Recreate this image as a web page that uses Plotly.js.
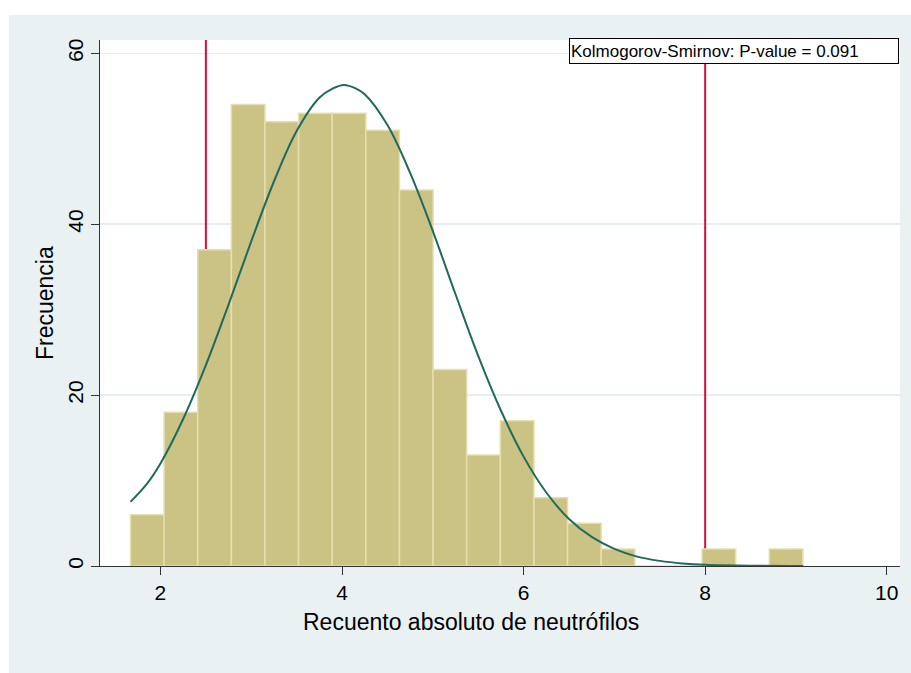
<!DOCTYPE html>
<html>
<head>
<meta charset="utf-8">
<script src="https://cdn.plot.ly/plotly-3.0.1.min.js"></script>
<style>html,body{margin:0;padding:0;background:#fff}#chart{width:911px;height:673px}</style>
</head>
<body>
<div id="chart"></div>
<script>
// Histogram bins (centres, width) and counts
const binCenters = [1.855, 2.225, 2.596, 2.966, 3.336, 3.707, 4.077, 4.447, 4.818, 5.188,
                    5.558, 5.929, 6.299, 6.669, 7.040, 7.410, 7.780, 8.151, 8.521, 8.891];
const binWidth = 0.3703;
const counts = [6, 18, 37, 54, 52, 53, 53, 51, 44, 23, 13, 17, 8, 5, 2, 0, 0, 2, 0, 2];

// Normal-density overlay, points
const curveX = [1.67, 1.85, 2.0, 2.25, 2.5, 2.75, 3.0, 3.25, 3.5, 3.75, 3.9, 4.02, 4.15, 4.25, 4.5, 4.75, 5.0,
                5.25, 5.5, 5.75, 6.0, 6.25, 6.5, 6.75, 7.0, 7.25, 7.5, 7.75, 8.0, 8.5, 9.08];
const curveY = [7.5, 9.6, 12.0, 17.2, 23.5, 30.6, 38.0, 45.0, 50.9, 54.8, 55.9, 56.3, 55.9, 55.2, 51.6, 46.0, 39.2,
                31.8, 24.6, 18.2, 12.8, 8.6, 5.5, 3.4, 2.0, 1.1, 0.6, 0.3, 0.14, 0.03, 0.0];

// Reference lines and texts
const refLines = [2.5, 8];
const xTicks = [2, 4, 6, 8, 10];
const yTicks = [0, 20, 40, 60];
const xTitle = "Recuento absoluto de neutrófilos";
const yTitle = "Frecuencia";
const ksText = "Kolmogorov-Smirnov: P-value = 0.091";

const FONT = '"Liberation Sans", Arial, sans-serif';
const yTop = 61.56;

const traces = [
  {
    type: 'bar', x: binCenters, y: counts, width: binWidth,
    marker: {color: '#cbc383', line: {color: '#e4dfae', width: 1.5}},
    hoverinfo: 'skip', showlegend: false
  },
  {
    type: 'scatter', mode: 'lines', x: curveX, y: curveY,
    line: {color: '#1f6a5d', width: 2, shape: 'spline', smoothing: 1},
    hoverinfo: 'skip', showlegend: false
  }
];

const shapes = [
  {type: 'rect', xref: 'paper', yref: 'paper', x0: -0.11375, x1: 1.05, y0: -0.22, y1: 1.0476,
   fillcolor: '#e9f1f3', line: {width: 0}, layer: 'below'},
  {type: 'rect', xref: 'paper', yref: 'paper', x0: 0, x1: 1, y0: 0, y1: 1,
   fillcolor: '#ffffff', line: {width: 0}, layer: 'below'}
];
refLines.forEach(v => shapes.push({
  type: 'line', xref: 'x', yref: 'y', x0: v, x1: v, y0: 0, y1: yTop,
  line: {color: '#d0103f', width: 2}, layer: 'between'
}));

const layout = {
  width: 911, height: 673,
  margin: {l: 100, r: 11, t: 40, b: 107, pad: 0},
  paper_bgcolor: '#ffffff', plot_bgcolor: '#ffffff',
  font: {family: FONT, color: '#000'},
  bargap: 0,
  xaxis: {
    range: [1.334, 10.146], tickvals: xTicks, ticktext: xTicks.map(String),
    ticks: 'outside', ticklen: 8, tickwidth: 1, tickcolor: '#333',
    showline: true, linecolor: '#333', linewidth: 1,
    showgrid: false, zeroline: false,
    tickfont: {family: FONT, size: 21, color: '#000'}
  },
  yaxis: {
    range: [0, yTop], tickvals: yTicks, ticktext: yTicks.map(String),
    tickangle: -90,
    ticks: 'outside', ticklen: 8, tickwidth: 1, tickcolor: '#333',
    showline: true, linecolor: '#333', linewidth: 1,
    showgrid: true, gridcolor: '#e6eef1', gridwidth: 1.5, zeroline: false,
    tickfont: {family: FONT, size: 21, color: '#000'}
  },
  shapes: shapes,
  annotations: [
    {xref: 'paper', yref: 'paper', x: 0.99875, y: 1.004, xanchor: 'right', yanchor: 'top',
     text: ksText, showarrow: false, align: 'left', width: 326, height: 22,
     bgcolor: '#ffffff', bordercolor: '#000', borderwidth: 1, borderpad: 1,
     font: {family: FONT, size: 17, color: '#000'}},
    {xref: 'paper', yref: 'paper', x: (471 - 100) / 800, y: (565.5 - 621) / 525.5,
     xanchor: 'center', yanchor: 'middle', text: xTitle, showarrow: false,
     font: {family: FONT, size: 23, color: '#000'}},
    {xref: 'paper', yref: 'paper', x: (45 - 100) / 800, y: 0.5, textangle: -90,
     xanchor: 'center', yanchor: 'middle', text: yTitle, showarrow: false,
     font: {family: FONT, size: 23, color: '#000'}}
  ]
};

Plotly.newPlot('chart', traces, layout, {staticPlot: true, displayModeBar: false});
</script>
</body>
</html>
